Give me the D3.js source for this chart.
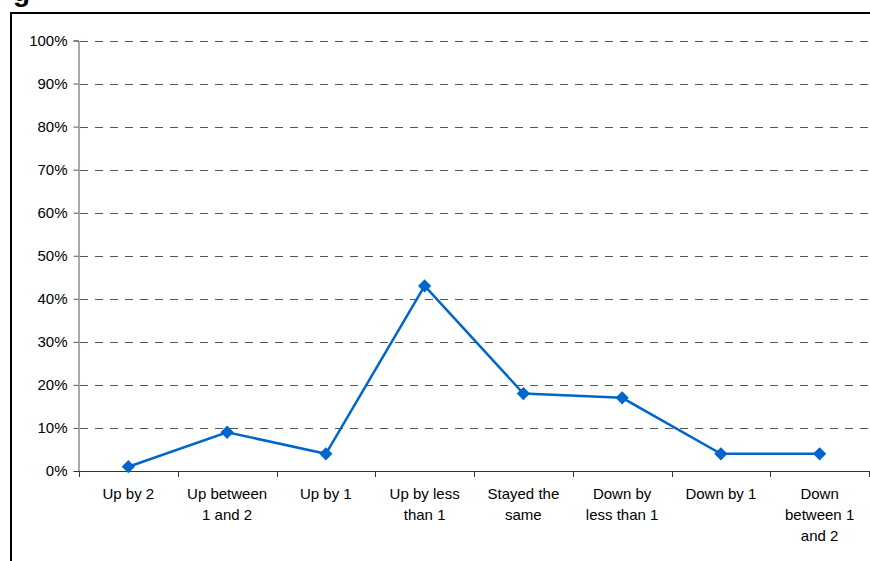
<!DOCTYPE html>
<html><head><meta charset="utf-8">
<script src="https://cdn.jsdelivr.net/npm/d3@7"></script>
<style>body{margin:0;background:#fff}svg{display:block}text{font-family:"Liberation Sans",Arial,sans-serif}</style>
</head><body>
<script>
const categories = [["Up by 2"],["Up between","1 and 2"],["Up by 1"],["Up by less","than 1"],["Stayed the","same"],["Down by","less than 1"],["Down by 1"],["Down","between 1","and 2"]];
const values = [1, 9, 4, 43, 18, 17, 4, 4];
const yTicks = [0,10,20,30,40,50,60,70,80,90,100];

(function(){
const W = 870, H = 561;
const svg = d3.select("body").append("svg").attr("width", W).attr("height", H);

// clipped title glyph
svg.append("text").attr("x", 13).attr("y", 1).attr("font-size", 28).attr("font-weight","bold").text("g");

// outer frame
svg.append("path").attr("d", `M11,${H+5}V13H${W+5}`).attr("fill","none").attr("stroke","#000").attr("stroke-width",2);

const mLeft = 79, mRight = 869, mTop = 40.5, mBottom = 471;
const x = d3.scaleBand().domain(categories.map((d,i)=>i)).range([mLeft, mRight]);
const y = d3.scaleLinear().domain([0,100]).range([mBottom, mTop]);

// gridlines
svg.append("g").selectAll("line").data(yTicks.filter(d=>d>0)).join("line")
  .attr("x1", mLeft+1).attr("x2", W).attr("y1", d=>Math.round(y(d))+0.5).attr("y2", d=>Math.round(y(d))+0.5)
  .attr("stroke","#555").attr("stroke-width",1).attr("stroke-dasharray","8,7");

// y axis
const yAxis = svg.append("g").attr("transform", `translate(${mLeft-0.5},0)`)
  .call(d3.axisLeft(y).tickValues(yTicks).tickFormat(d=>d+"%").tickSize(5).tickPadding(6));
yAxis.select(".domain").attr("stroke","#555");
yAxis.selectAll(".tick line").attr("stroke","#555");
yAxis.selectAll("text").attr("font-size",15).attr("fill","#000").attr("font-family","Liberation Sans, Arial, sans-serif");

// x axis
const xg = svg.append("g");
xg.append("line").attr("x1", mLeft-5).attr("x2", mRight).attr("y1", mBottom+0.5).attr("y2", mBottom+0.5).attr("stroke","#333");
const bounds = d3.range(categories.length+1).map(i => i < categories.length ? x(i) : x(i-1)+x.bandwidth());
xg.selectAll("line.t").data(bounds).join("line").attr("class","t")
  .attr("x1", d=>Math.round(d)+0.5).attr("x2", d=>Math.round(d)+0.5).attr("y1", mBottom).attr("y2", mBottom+6).attr("stroke","#333");
categories.forEach((lines,i)=>{
  const t = xg.append("text").attr("text-anchor","middle").attr("font-size",15).attr("fill","#000")
    .attr("x", x(i)+x.bandwidth()/2).attr("y", mBottom+28);
  lines.forEach((l,j)=>t.append("tspan").attr("x", x(i)+x.bandwidth()/2).attr("dy", j?21:0).text(l));
});

// line
const line = d3.line().x((d,i)=>x(i)+x.bandwidth()/2).y(d=>y(d));
svg.append("path").datum(values).attr("d", line).attr("fill","none").attr("stroke","#0066CC").attr("stroke-width",2.5).attr("stroke-linejoin","miter");
svg.append("g").selectAll("path").data(values).join("path")
  .attr("d", d3.symbol(d3.symbolSquare, 88)())
  .attr("transform",(d,i)=>`translate(${x(i)+x.bandwidth()/2},${y(d)}) rotate(45)`)
  .attr("fill","#0066CC");
})();
</script>
</body></html>
